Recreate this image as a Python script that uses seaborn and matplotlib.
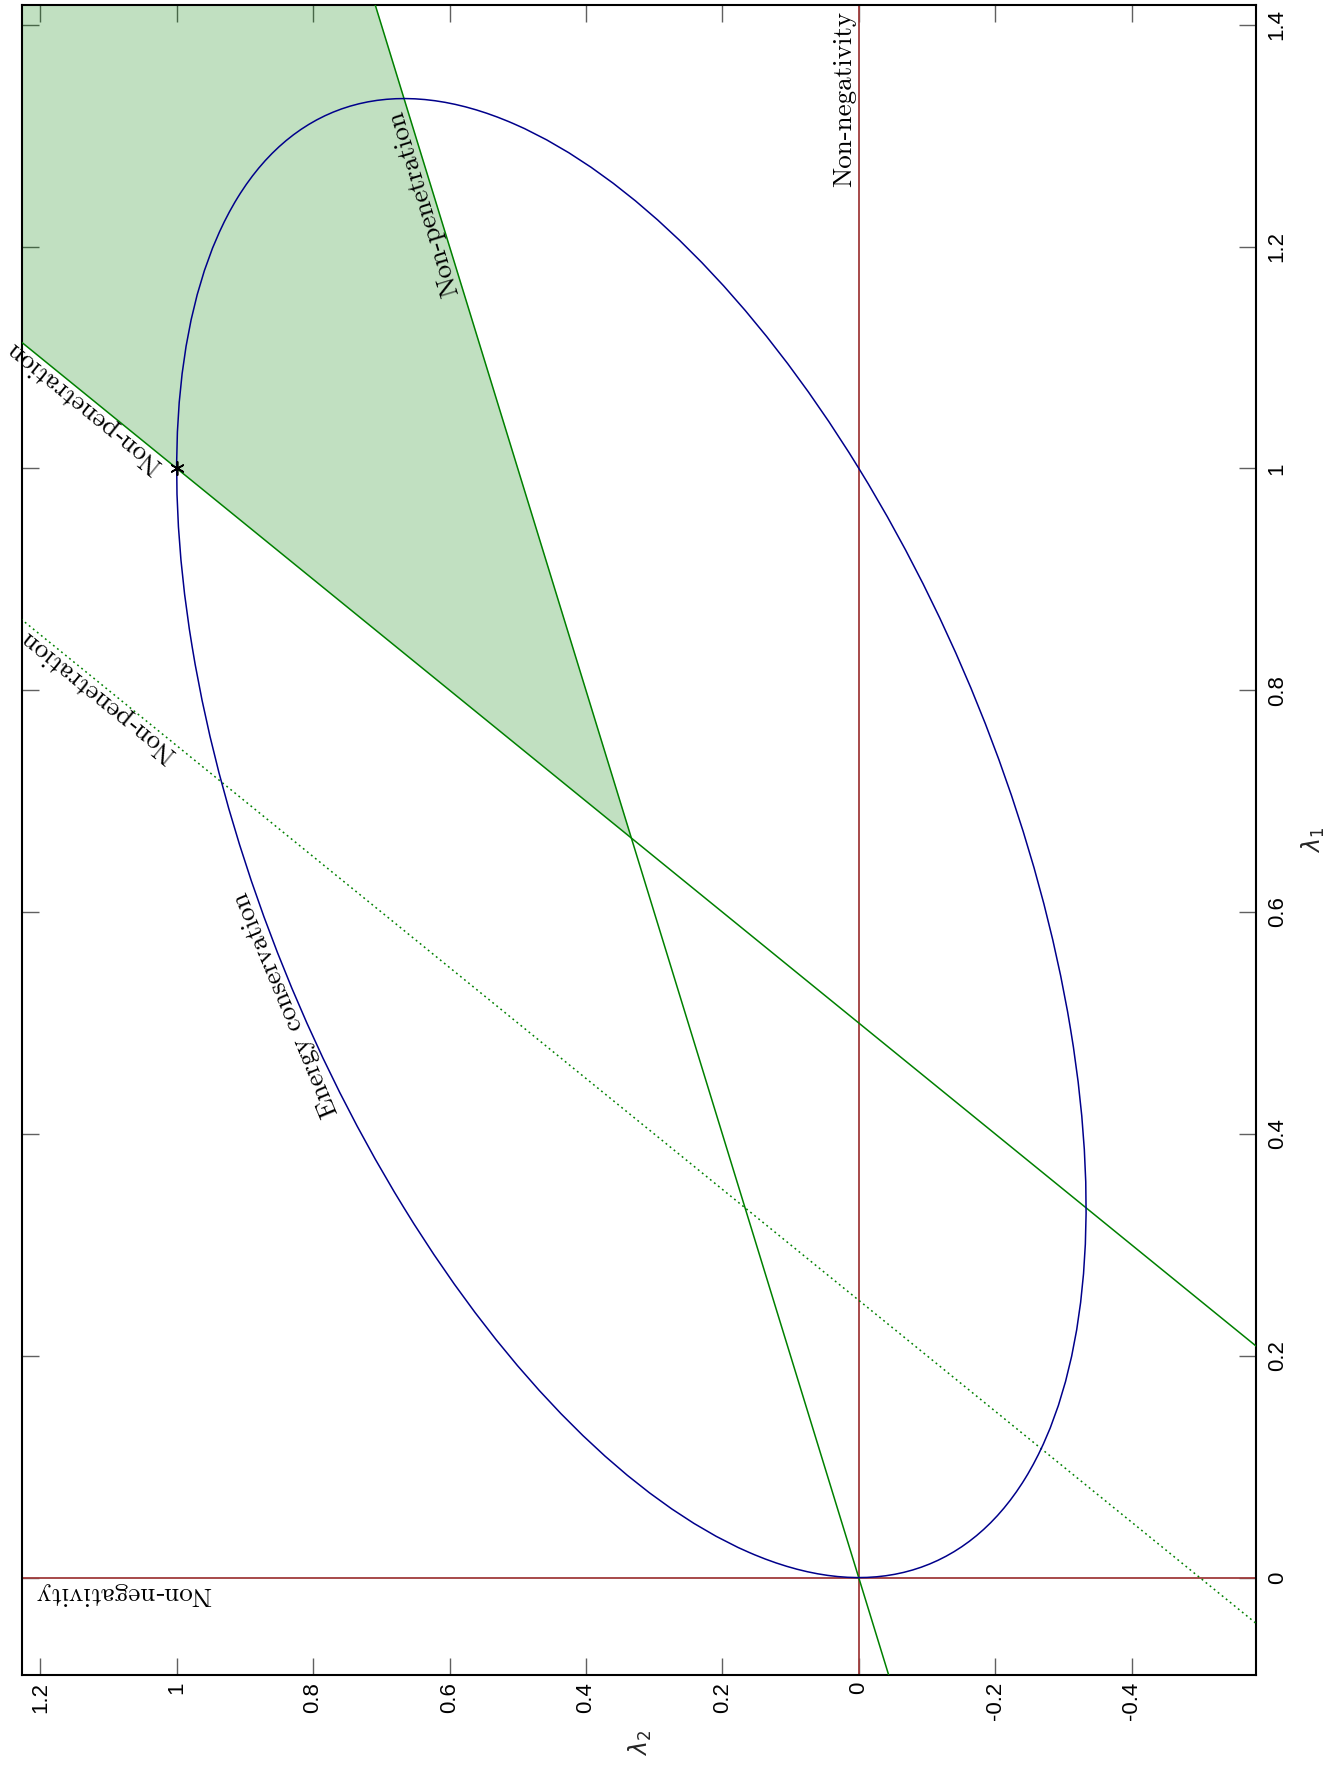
import numpy as np
import pandas as pd
import matplotlib
matplotlib.use("Agg")
import matplotlib.pyplot as plt
import seaborn as sns
from matplotlib.patches import Ellipse

# ---------------- data ----------------
lam1_ticks = [0.0, 0.2, 0.4, 0.6, 0.8, 1.0, 1.2, 1.4]
lam1_ticklabels = ["0", "0.2", "0.4", "0.6", "0.8", "1", "1.2", "1.4"]
lam2_ticks = [-0.4, -0.2, 0.0, 0.2, 0.4, 0.6, 0.8, 1.0, 1.2]
lam2_ticklabels = ["-0.4", "-0.2", "0", "0.2", "0.4", "0.6", "0.8", "1", "1.2"]
lam1_limits = [-0.0876, 1.418]
lam2_limits = [1.2264, -0.583]          # reversed axis (λ2 grows to the left)

# non-penetration constraints: λ1 = intercept + slope * λ2
pen_names = ["active", "origin", "shifted"]
pen_intercepts = [0.5, 0.0, 0.25]
pen_slopes = [0.5, 2.0, 0.5]
pen_styles = ["-", "-", ":"]
pen_lam2_span = [-0.7, 1.4]

# energy conservation ellipse
ell_center = [1 / 3, 2 / 3]             # (λ2, λ1)
ell_width = 1.633                       # full length of major axis
ell_height = 0.943                      # full length of minor axis
ell_angle = 45

# contact point
star_lam2 = [1.0]
star_lam1 = [1.0]

# ---------------- style ----------------
sns.set_style("white")
plt.rcParams["font.family"] = ["Liberation Sans", "DejaVu Sans"]
plt.rcParams["mathtext.fontset"] = "dejavusans"

GREEN = "#008000"
BLUE = "#00008b"
RED = "#a03c3c"
TICK = "#606060"

fig = plt.figure(figsize=(13.39, 17.66), dpi=100)
ax = fig.add_axes([0.01665, 0.0517, 0.9216, 0.94564])
ax.set_xlim(lam2_limits)
ax.set_ylim(lam1_limits)

# feasible cone (between the active and origin constraint, above their crossing)
m1, b1 = pen_slopes[0], pen_intercepts[0]
m2, b2 = pen_slopes[1], pen_intercepts[1]
v_lam2 = (b1 - b2) / (m2 - m1)
v_lam1 = b2 + m2 * v_lam2
y_fill = np.array([v_lam1, lam1_limits[1] + 0.05])
x_origin = (y_fill - b2) / m2
x_active = (y_fill - b1) / m1
ax.fill_betweenx(y_fill, x_origin, x_active, color=GREEN, alpha=0.245, lw=0, zorder=1)

# constraint lines
for name, b, m, ls in zip(pen_names, pen_intercepts, pen_slopes, pen_styles):
    lam2 = np.array(pen_lam2_span)
    df = pd.DataFrame({"lam2": lam2, "lam1": b + m * lam2})
    sns.lineplot(data=df, x="lam2", y="lam1", ax=ax, color=GREEN, lw=1.1,
                 linestyle=ls, legend=False, zorder=3)
ax.lines[-1].set_dashes([1.2, 2.2])

# non-negativity lines
ax.axhline(0, color=RED, lw=1.3, zorder=2)
ax.axvline(0, color=RED, lw=1.3, zorder=2)

# energy ellipse
ax.add_patch(Ellipse(ell_center, ell_width, ell_height, angle=ell_angle,
                     fill=False, ec=BLUE, lw=1.1, zorder=4))

# contact point
sns.scatterplot(x=star_lam2, y=star_lam1, ax=ax, marker=(6, 2, 0), s=90,
                color="black", linewidth=1.2, zorder=5, legend=False)

ax.set_xlim(lam2_limits)
ax.set_ylim(lam1_limits)

# ticks
ax.set_xticks(lam2_ticks)
ax.set_xticklabels(lam2_ticklabels, rotation=90)
ax.set_yticks(lam1_ticks)
ax.set_yticklabels(lam1_ticklabels, rotation=90, va="center")
ax.tick_params(axis="both", which="both", direction="in", length=12, width=1.0,
               color=TICK, labelsize=16, labelcolor="black")
ax.tick_params(axis="x", top=True, bottom=True, labelbottom=True, labeltop=False, pad=5)
ax.tick_params(axis="y", left=True, right=True, labelleft=False, labelright=True, pad=7.5)
ax.set_xlabel("")
ax.set_ylabel("")
for s in ax.spines.values():
    s.set_color("black")
    s.set_linewidth(1.5)
    s.set_visible(True)

fig.text(1313 / 1339, 1 - 840 / 1766, r"$\lambda_1$", rotation=90, fontsize=17,
         ha="center", va="center")
fig.text(640 / 1339, 1 - 1743 / 1766, r"$\lambda_2$", rotation=90, fontsize=17,
         ha="center", va="center")


def screen_angle(p0, p1):
    a = ax.transData.transform([p0, p1])
    d = a[1] - a[0]
    return np.degrees(np.arctan2(d[1], d[0]))


LFONT = dict(family="cmr10", fontsize=19.5, color="black", rotation_mode="anchor",
             zorder=6, annotation_clip=False)

# Non-negativity labels
ax.annotate("Non-negativity", xy=(0.0, 1.4124), xytext=(-1.5, 0), textcoords="offset points",
            rotation=90, ha="right", va="bottom", **LFONT)
ax.annotate("Non-negativity", xy=(1.2078, 0.0), xytext=(0, -3), textcoords="offset points",
            rotation=180, ha="right", va="bottom", **LFONT)

# Non-penetration labels
ang_origin = screen_angle((0.5, 1.0), (0.7, 1.4))
ax.annotate("Non-penetration", xy=(0.621, 1.242), rotation=ang_origin,
            ha="center", va="bottom", **LFONT)
ang_active = screen_angle((0.9, 0.95), (1.1, 1.05))
ax.annotate("Non-penetration", xy=(1.016, 1.008), rotation=ang_active,
            ha="left", va="bottom", **LFONT)
ax.annotate("Non-penetration", xy=(0.995, 0.7475), rotation=ang_active,
            ha="left", va="bottom", **LFONT)

# Energy conservation label
ax.annotate("Energy conservation", xy=(0.824, 0.521), rotation=112.5,
            ha="center", va="bottom", **LFONT)

fig.savefig("out.png", dpi=100)
